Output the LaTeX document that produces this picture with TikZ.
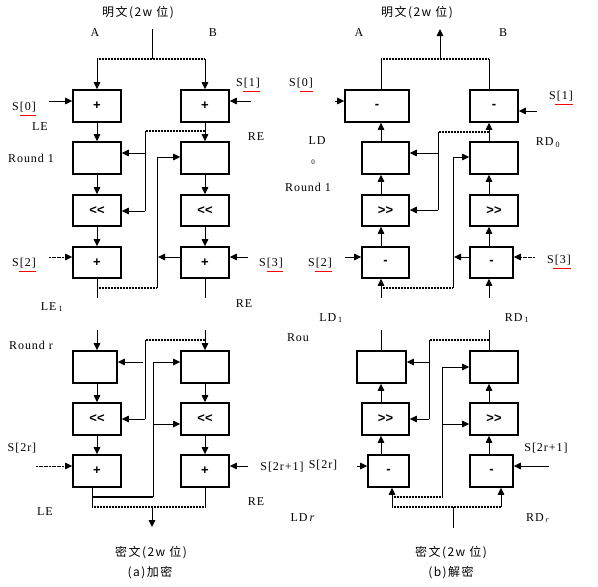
\documentclass[tikz,border=0pt]{standalone}
\usepackage{fontspec}
\setmainfont[LetterSpace=8]{Liberation Serif}
\setsansfont{Liberation Sans}
\newfontfamily\cjk[LetterSpace=12]{Noto Sans CJK SC}
\usetikzlibrary{arrows.meta}
\tikzset{
  box/.style={draw, line width=1.6pt, inner sep=0pt, minimum width=48pt, minimum height=32pt, font=\sffamily\bfseries\fontsize{13}{13}\selectfont},
  arr/.style={-{Triangle[length=7pt,width=6.5pt]}, line width=1pt},
  ln/.style={line width=1pt},
  dln/.style={line width=1.6pt, dash pattern=on 1pt off 0.5pt},
  lbl/.style={inner sep=0pt, font=\fontsize{12}{14}\selectfont},
  cj/.style={inner sep=0pt, font=\cjk\fontsize{12}{14}\selectfont},
  redu/.style={red, line width=1pt}
}
\begin{document}
\begin{tikzpicture}[x=1pt,y=-1pt]
\useasboundingbox (0,0) rectangle (598,587);
\fill[white] (0,0) rectangle (598,587);

% ================= LEFT: encryption =================
\node[box] (LA) at (97,106) {+};
\node[box] (LB) at (205,106) {+};
\node[box] (LA2) at (97,158) {};
\node[box] (LB2) at (205,158) {};
\node[box, minimum height=31pt] (LA3) at (97,210.5) {{<}{<}};
\node[box, minimum height=31pt] (LB3) at (205,210.5) {{<}{<}};
\node[box, minimum height=31pt] (LA4) at (97,262.5) {+};
\node[box, minimum height=31pt] (LB4) at (205,262.5) {+};
\node[box, minimum width=44pt] (LA5) at (95,367) {};
\node[box] (LB5) at (205,367) {};
\node[box] (LA6) at (97,419) {{<}{<}};
\node[box] (LB6) at (205,419) {{<}{<}};
\node[box] (LA7) at (97,471) {+};
\node[box] (LB7) at (205,471) {+};

\coordinate (lc) at (97,0);
\coordinate (rc) at (205,0);
\coordinate (lt0) at (152,29);
\coordinate (lt1) at (152,59);
\coordinate (ltl) at (97,59);
\coordinate (ltr) at (205,59);
\draw[ln] (lt0) -- (lt1);
\draw[dln] (ltl) -- (ltr);
\draw[arr] (ltl) -- (LA.north);
\draw[arr] (ltr) -- (LB.north);
\coordinate (s0) at (49,101);
\coordinate (s1) at (251,101);
\draw[arr] (s0) -- (s0 -| LA.west);
\draw[arr] (s1) -- (s1 -| LB.east);
\draw[arr] (LA) -- (LA2);
\draw[arr] (LB) -- (LB2);
\draw[arr] (LA2) -- (LA3);
\draw[arr] (LA3) -- (LA4);
\draw[arr] (LB2) -- (LB3);
\draw[arr] (LB3) -- (LB4);
% feed right -> left, round 1
\coordinate (j1) at (205,131);
\coordinate (j2) at (145,131);
\coordinate (j3) at (145,153);
\coordinate (j4) at (145,211);
\draw[dln] (j1) -- (j2);
\draw[ln] (j2) -- (j4);
\draw[arr] (j3) -- (j3 -| LA2.east);
\draw[arr] (j4) -- (j4 -| LA3.east);
% feed left -> right
\coordinate (k1) at (97,288);
\coordinate (k2) at (157,288);
\coordinate (k3) at (157,157);
\coordinate (k4) at (158,257);
\draw[ln] (LA4.south) -- (97,298);
\draw[ln] (LB4.south) -- (205,298);
\draw[dln] (k1) -- (k2);
\draw[ln] (k2) -- (k3);
\draw[arr] (k3) -- (k3 -| LB2.west);
\draw[arr] (k4 -| LB4.west) -- (k4);
\coordinate (s2) at (49,257);
\coordinate (s3) at (248,257);
\draw[arr, dash pattern=on 2pt off 0.6pt] (s2) -- (s2 -| LA4.west);
\draw[arr] (s3) -- (s3 -| LB4.east);
% round r
\coordinate (m1) at (97,330);
\coordinate (m2) at (205,330);
\draw[arr] (m1) -- (LA5.north -| m1);
\draw[arr] (m2) -- (LB5.north);
\coordinate (m3) at (205,340);
\coordinate (m4) at (145,340);
\coordinate (m5) at (145,419);
\coordinate (m6) at (143,362);
\draw[dln] (m3) -- (m4);
\draw[ln] (m4) -- (m5);
\draw[arr] (m6) -- (m6 -| LA5.east);
\draw[arr] (m5) -- (m5 -| LA6.east);
\coordinate (n1) at (153,362);
\coordinate (n2) at (153,424);
\coordinate (n3) at (153,497);
\draw[ln] (n1) -- (n3);
\draw[arr] (n1) -- (n1 -| LB5.west);
\draw[arr] (n2) -- (n2 -| LB6.west);
\draw[arr] (LA5.south -| lc) -- (LA6.north);
\draw[arr] (LA6) -- (LA7);
\draw[arr] (LB5) -- (LB6);
\draw[arr] (LB6) -- (LB7);
\coordinate (s4) at (36,466);
\coordinate (s5) at (248,466);
\draw[arr, dash pattern=on 2pt off 0.6pt] (s4) -- (s4 -| LA7.west);
\draw[arr] (s5) -- (s5 -| LB7.east);
\coordinate (b1) at (92,487);
\coordinate (b2) at (92,507);
\coordinate (b3) at (92,497);
\coordinate (b4) at (205,507);
\coordinate (b5) at (152,507);
\coordinate (b6) at (152,527);
\draw[ln] (b1) -- (b2);
\draw[line width=1.6pt] (b3) -- (n3);
\draw[ln] (LB7.south) -- (b4);
\draw[dln] (b2) -- (b4);
\draw[arr] (b5) -- (b6);

% labels left
\node[cj] (t1) at (138,13) {明文(2w 位)};
\node[lbl] (tA) at (95,33) {A};
\node[lbl] (tB) at (213,33) {B};
\node[lbl] (tS0) at (24,107) {S[0]};
\draw[redu] (20,115) -- (36,115);
\node[lbl] (tS1) at (248,83) {S[1]};
\draw[redu] (243,91) -- (260,91);
\node[lbl] (tLE) at (40,127) {LE};
\node[lbl] (tRE) at (256,137) {RE};
\node[lbl] (tR1) at (31,158) {Round 1};
\node[lbl] (tS2) at (24,263) {S[2]};
\draw[redu] (19,271) -- (36,271);
\node[lbl] (tS3) at (271,263) {S[3]};
\draw[redu] (267,271) -- (283,271);
\node[lbl] (tLE1) at (52,307) {LE\,\textsubscript{1}};
\node[lbl] (tRE1) at (244,304) {RE};
\node[lbl] (tRr) at (31,345) {Round r};
\node[lbl] (tS2r) at (22,448) {S[2r]};
\node[lbl] (tS2r1) at (282,467) {S[2r+1]};
\node[lbl] (tLEr) at (45,512) {LE};
\node[lbl] (tREr) at (256,502) {RE};
\node[cj] (t2) at (151,553) {密文(2w 位)};
\node[cj] (t3) at (150,573) {(a)加密};

% ================= RIGHT: decryption =================
\node[box, minimum width=64pt] (RA) at (377,106) {-};
\node[box] (RB) at (494,106) {-};
\node[box, minimum width=47pt] (RA2) at (385.5,158) {};
\node[box] (RB2) at (494,158) {};
\node[box, minimum width=47pt, minimum height=31pt] (RA3) at (385.5,210.5) {{>}{>}};
\node[box, minimum height=31pt] (RB3) at (494,210.5) {{>}{>}};
\node[box, minimum width=47pt, minimum height=31pt] (RA4) at (385.5,262.5) {-};
\node[box, minimum width=43pt, minimum height=31pt] (RB4) at (491.5,262.5) {-};
\node[box, minimum width=49pt] (RA5) at (381.5,367) {};
\node[box] (RB5) at (494,367) {};
\node[box, minimum width=47pt] (RA6) at (385.5,419) {{>}{>}};
\node[box] (RB6) at (494,419) {{>}{>}};
\node[box, minimum width=41pt] (RA7) at (388.5,471) {-};
\node[box, minimum width=43pt] (RB7) at (491.5,471) {-};

\coordinate (cL) at (381,0);
\coordinate (cR) at (489,0);
\coordinate (u0) at (440,59);
\coordinate (u1) at (440,29);
\coordinate (ul) at (381,59);
\coordinate (ur) at (489,59);
\draw[arr] (u0) -- (u1);
\draw[dln] (ul) -- (ur);
\draw[ln] (ul) -- (ul |- RA.north);
\draw[ln] (ur) -- (ur |- RB.north);
\coordinate (r0) at (335,101);
\coordinate (r1) at (537,111);
\draw[arr] (r0) -- (r0 -| RA.west);
\draw[arr] (r1) -- (r1 -| RB.east);
\draw[arr] (cL |- RA2.north) -- (cL |- RA.south);
\draw[arr] (cR |- RB2.north) -- (cR |- RB.south);
\draw[arr] (cL |- RA3.north) -- (cL |- RA2.south);
\draw[arr] (cL |- RA4.north) -- (cL |- RA3.south);
\draw[arr] (cR |- RB3.north) -- (cR |- RB2.south);
\draw[arr] (cR |- RB4.north) -- (cR |- RB3.south);
\coordinate (p1) at (489,132);
\coordinate (p2) at (438,132);
\coordinate (p3) at (438,153);
\coordinate (p4) at (438,210);
\draw[dln] (p1) -- (p2);
\draw[ln] (p2) -- (p4);
\draw[arr] (p3) -- (p3 -| RA2.east);
\draw[arr] (p4) -- (p4 -| RA3.east);
\coordinate (q1) at (381,288);
\coordinate (q2) at (453,288);
\coordinate (q3) at (453,157);
\coordinate (q4) at (454,257);
\draw[dln] (q1) -- (q2);
\draw[ln] (q2) -- (q3);
\draw[arr] (q3) -- (q3 -| RB2.west);
\draw[arr] (q4 -| RB4.west) -- (q4);
\coordinate (q5) at (381,298);
\coordinate (q6) at (489,298);
\draw[arr] (q5) -- (cL |- RA4.south);
\draw[arr] (q6) -- (cR |- RB4.south);
\coordinate (r2) at (345,257);
\coordinate (r3) at (535,257);
\draw[arr] (r2) -- (r2 -| RA4.west);
\draw[arr, dash pattern=on 2pt off 0.6pt] (r3) -- (r3 -| RB4.east);
% round r
\coordinate (v1) at (381,330);
\coordinate (v2) at (489,330);
\draw[ln] (v1) -- (cL |- RA5.north);
\draw[ln] (v2) -- (cR |- RB5.north);
\coordinate (v3) at (489,340);
\coordinate (v4) at (429,340);
\coordinate (v5) at (429,419);
\coordinate (v6) at (429,362);
\draw[dln] (v3) -- (v4);
\draw[ln] (v4) -- (v5);
\draw[arr] (v6) -- (v6 -| RA5.east);
\draw[arr] (v5) -- (v5 -| RA6.east);
\coordinate (w1) at (442,367);
\coordinate (w2) at (442,424);
\coordinate (w3) at (442,497);
\draw[ln] (w1) -- (w3);
\draw[arr] (w1) -- (w1 -| RB5.west);
\draw[arr] (w2) -- (w2 -| RB6.west);
\draw[arr] (cL |- RA6.north) -- (cL |- RA5.south);
\draw[arr] (cL |- RA7.north) -- (cL |- RA6.south);
\draw[arr] (cR |- RB6.north) -- (cR |- RB5.south);
\draw[arr] (cR |- RB7.north) -- (cR |- RB6.south);
\coordinate (r4) at (357,466);
\coordinate (r5) at (549,466);
\draw[arr] (r4) -- (r4 -| RA7.west);
\draw[arr] (r5) -- (r5 -| RB7.east);
\coordinate (z1) at (392,507);
\coordinate (z2) at (392,497);
\coordinate (z3) at (501,507);
\coordinate (z4) at (453,507);
\coordinate (z5) at (453,528);
\draw[arr] (z1) -- (z1 |- RA7.south);
\draw[dln] (z2) -- (w3);
\draw[dln] (z1) -- (z3);
\draw[arr] (z3) -- (z3 |- RB7.south);
\draw[ln] (z4) -- (z5);

% labels right
\node[cj] (t4) at (417,13) {明文(2w 位)};
\node[lbl] (tA2) at (359,33) {A};
\node[lbl] (tB2) at (503,33) {B};
\node[lbl] (uS0) at (301,83) {S[0]};
\draw[redu] (300,91) -- (313,91);
\node[lbl] (uS1) at (561,96) {S[1]};
\draw[redu] (555,104) -- (573,104);
\node[lbl] (uLD) at (317,141) {LD};
\node[lbl, font=\fontsize{7}{8}\selectfont] (uLD0) at (313,162) {0};
\node[lbl] (uRD) at (548,143) {RD\,\textsubscript{0}};
\node[lbl] (uR1) at (308,187) {Round 1};
\node[lbl] (uS2) at (320,263) {S[2]};
\draw[redu] (315,271) -- (332,271);
\node[lbl] (uS3) at (559,260) {S[3]};
\draw[redu] (553,268) -- (571,268);
\node[lbl] (uLD1) at (331,318) {LD\,\textsubscript{1}};
\node[lbl] (uRD1) at (517,318) {RD\,\textsubscript{1}};
\node[lbl] (uRr) at (298,338) {Rou};
\node[lbl] (uS2r) at (323,465) {S[2r]};
\node[lbl] (uS2r1) at (546,448) {S[2r+1]};
\node[lbl] (uLDr) at (303,518) {LD\,\textit{r}};
\node[lbl] (uRDr) at (538,518) {RD\,\textsubscript{\textit{r}}};
\node[cj] (t5) at (451,553) {密文(2w 位)};
\node[cj] (t6) at (451,573) {(b)解密};
\end{tikzpicture}
\end{document}
